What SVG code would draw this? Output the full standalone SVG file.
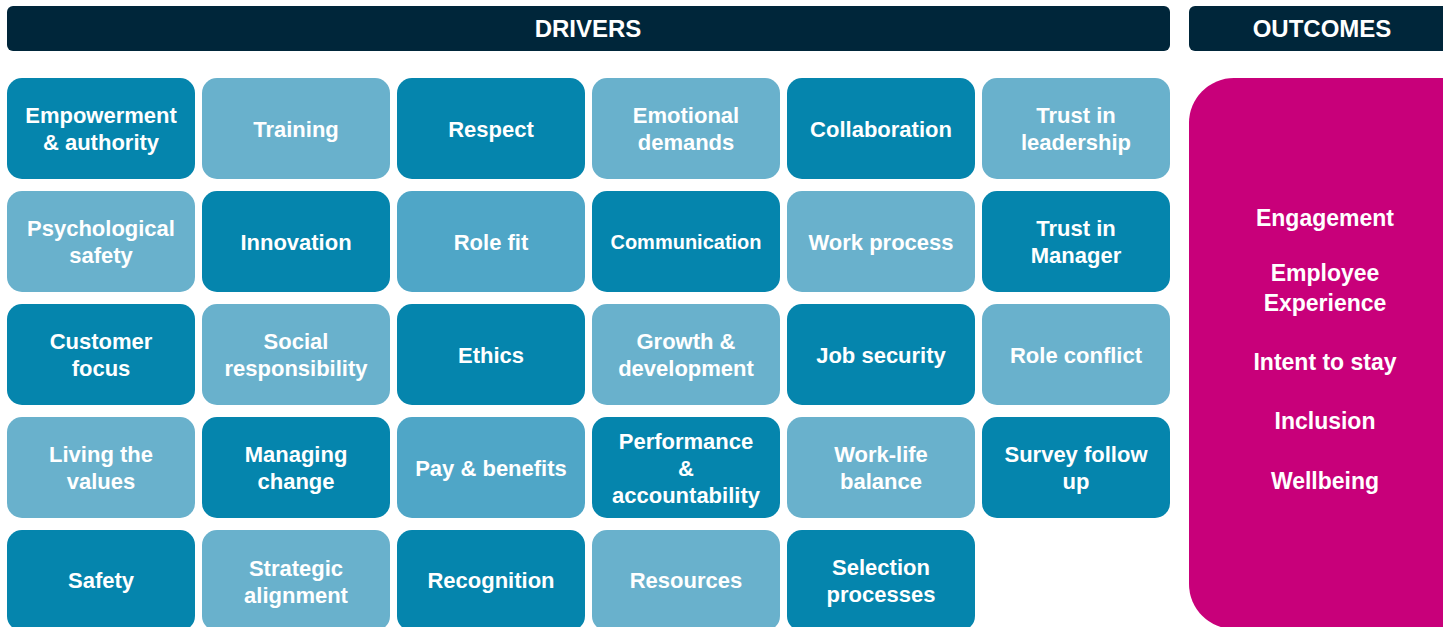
<svg xmlns="http://www.w3.org/2000/svg" width="1443" height="627" viewBox="0 0 1443 627">
<style>
.hdr{fill:#00263a}
.d{fill:#0585ad}
.l{fill:#69b1cc}
.m{fill:#4fa6c7}
.out{fill:#c8007a}
text{font-family:"Liberation Sans",Arial,sans-serif;font-weight:bold;fill:#ffffff;text-anchor:middle}
.t{font-size:22px}
.h{font-size:24px}
.s{font-size:20px}
.o{font-size:23px}
</style>
<rect width="1443" height="627" fill="#ffffff"/>
<g id="header-drivers"><rect class="hdr" x="7" y="6" width="1163" height="45" rx="6"/><text class="h" x="588" y="37">DRIVERS</text></g>
<g id="header-outcomes"><rect class="hdr" x="1189" y="6" width="270" height="45" rx="6"/><text class="h" x="1322" y="37">OUTCOMES</text></g>

<g id="empowerment"><rect class="d" x="7" y="78" width="188" height="101" rx="15"/><text class="t" x="101" y="123">Empowerment</text><text class="t" x="101" y="150">&amp; authority</text></g>
<g id="training"><rect class="l" x="202" y="78" width="188" height="101" rx="15"/><text class="t" x="296" y="137">Training</text></g>
<g id="respect"><rect class="d" x="397" y="78" width="188" height="101" rx="15"/><text class="t" x="491" y="137">Respect</text></g>
<g id="emotional"><rect class="l" x="592" y="78" width="188" height="101" rx="15"/><text class="t" x="686" y="123">Emotional</text><text class="t" x="686" y="150">demands</text></g>
<g id="collaboration"><rect class="d" x="787" y="78" width="188" height="101" rx="15"/><text class="t" x="881" y="137">Collaboration</text></g>
<g id="trust-leadership"><rect class="l" x="982" y="78" width="188" height="101" rx="15"/><text class="t" x="1076" y="123">Trust in</text><text class="t" x="1076" y="150">leadership</text></g>

<g id="psych-safety"><rect class="l" x="7" y="191" width="188" height="101" rx="15"/><text class="t" x="101" y="236">Psychological</text><text class="t" x="101" y="263">safety</text></g>
<g id="innovation"><rect class="d" x="202" y="191" width="188" height="101" rx="15"/><text class="t" x="296" y="250">Innovation</text></g>
<g id="role-fit"><rect class="m" x="397" y="191" width="188" height="101" rx="15"/><text class="t" x="491" y="250">Role fit</text></g>
<g id="communication"><rect class="d" x="592" y="191" width="188" height="101" rx="15"/><text class="s" x="686" y="249">Communication</text></g>
<g id="work-process"><rect class="l" x="787" y="191" width="188" height="101" rx="15"/><text class="t" x="881" y="250">Work process</text></g>
<g id="trust-manager"><rect class="d" x="982" y="191" width="188" height="101" rx="15"/><text class="t" x="1076" y="236">Trust in</text><text class="t" x="1076" y="263">Manager</text></g>

<g id="customer-focus"><rect class="d" x="7" y="304" width="188" height="101" rx="15"/><text class="t" x="101" y="349">Customer</text><text class="t" x="101" y="376">focus</text></g>
<g id="social-resp"><rect class="l" x="202" y="304" width="188" height="101" rx="15"/><text class="t" x="296" y="349">Social</text><text class="t" x="296" y="376">responsibility</text></g>
<g id="ethics"><rect class="d" x="397" y="304" width="188" height="101" rx="15"/><text class="t" x="491" y="363">Ethics</text></g>
<g id="growth"><rect class="l" x="592" y="304" width="188" height="101" rx="15"/><text class="t" x="686" y="349">Growth &amp;</text><text class="t" x="686" y="376">development</text></g>
<g id="job-security"><rect class="d" x="787" y="304" width="188" height="101" rx="15"/><text class="t" x="881" y="363">Job security</text></g>
<g id="role-conflict"><rect class="l" x="982" y="304" width="188" height="101" rx="15"/><text class="t" x="1076" y="363">Role conflict</text></g>

<g id="living-values"><rect class="l" x="7" y="417" width="188" height="101" rx="15"/><text class="t" x="101" y="462">Living the</text><text class="t" x="101" y="489">values</text></g>
<g id="managing-change"><rect class="d" x="202" y="417" width="188" height="101" rx="15"/><text class="t" x="296" y="462">Managing</text><text class="t" x="296" y="489">change</text></g>
<g id="pay-benefits"><rect class="m" x="397" y="417" width="188" height="101" rx="15"/><text class="t" x="491" y="476">Pay &amp; benefits</text></g>
<g id="performance"><rect class="d" x="592" y="417" width="188" height="101" rx="15"/><text class="t" x="686" y="449">Performance</text><text class="t" x="686" y="476">&amp;</text><text class="t" x="686" y="503">accountability</text></g>
<g id="work-life"><rect class="l" x="787" y="417" width="188" height="101" rx="15"/><text class="t" x="881" y="462">Work-life</text><text class="t" x="881" y="489">balance</text></g>
<g id="survey-follow-up"><rect class="d" x="982" y="417" width="188" height="101" rx="15"/><text class="t" x="1076" y="462">Survey follow</text><text class="t" x="1076" y="489">up</text></g>

<g id="safety"><rect class="d" x="7" y="530" width="188" height="101" rx="15"/><text class="t" x="101" y="588">Safety</text></g>
<g id="strategic"><rect class="l" x="202" y="530" width="188" height="101" rx="15"/><text class="t" x="296" y="576">Strategic</text><text class="t" x="296" y="603">alignment</text></g>
<g id="recognition"><rect class="d" x="397" y="530" width="188" height="101" rx="15"/><text class="t" x="491" y="588">Recognition</text></g>
<g id="resources"><rect class="l" x="592" y="530" width="188" height="101" rx="15"/><text class="t" x="686" y="588">Resources</text></g>
<g id="selection"><rect class="d" x="787" y="530" width="188" height="101" rx="15"/><text class="t" x="881" y="575">Selection</text><text class="t" x="881" y="602">processes</text></g>

<g id="outcomes"><rect class="out" x="1189" y="78" width="300" height="551" rx="45"/>
<text class="o" x="1325" y="226">Engagement</text>
<text class="o" x="1325" y="281">Employee</text>
<text class="o" x="1325" y="311">Experience</text>
<text class="o" x="1325" y="370">Intent to stay</text>
<text class="o" x="1325" y="429">Inclusion</text>
<text class="o" x="1325" y="489">Wellbeing</text>
</g>
<g id="connectors"/>
</svg>
